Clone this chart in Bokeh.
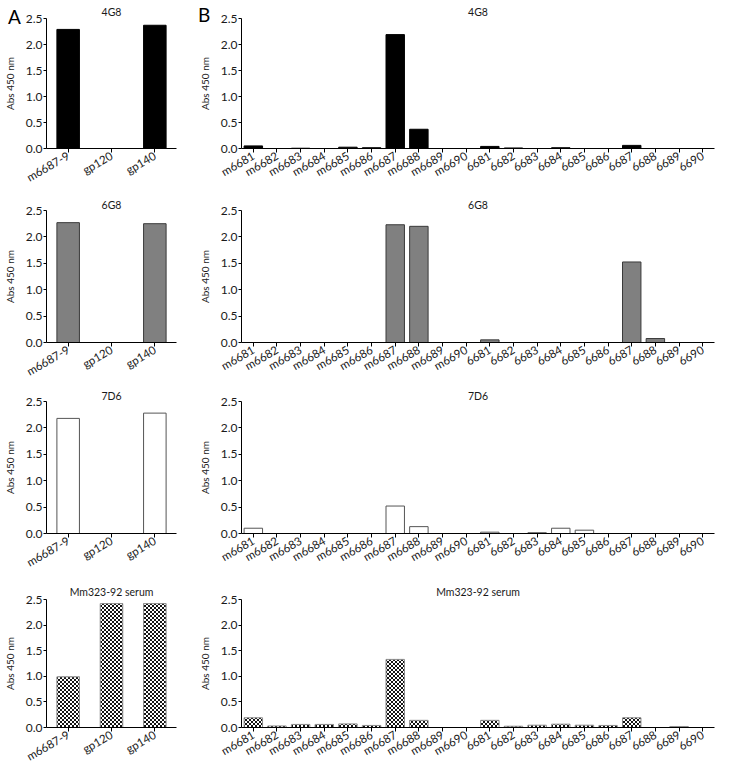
import math
import zlib
import struct
import base64
from bokeh.plotting import figure
from bokeh.layouts import column, row
from bokeh.models import (FactorRange, Range1d, FixedTicker, PrintfTickFormatter,
                          ImageURLTexture, ColumnDataSource, Div)
from bokeh.core.properties import value
from bokeh.embed import file_html
from bokeh.resources import INLINE

# ---------------- data ----------------
a_cats = ["m6687-9", "gp120", "gp140"]
b_cats = ["m6681", "m6682", "m6683", "m6684", "m6685", "m6686", "m6687", "m6688", "m6689", "m6690",
          "6681", "6682", "6683", "6684", "6685", "6686", "6687", "6688", "6689", "6690"]

panel_titles = ["4G8", "6G8", "7D6", "Mm323-92 serum"]
panel_letters = ["A", "B"]

a_4g8 = [2.29, 0.0, 2.37]
a_6g8 = [2.27, 0.0, 2.25]
a_7d6 = [2.18, 0.0, 2.28]
a_serum = [0.99, 2.42, 2.42]

b_4g8 = [0.05, 0.0, 0.005, 0.0, 0.025, 0.015, 2.19, 0.37, 0.0, 0.0,
         0.04, 0.01, 0.0, 0.015, 0.0, 0.0, 0.06, 0.0, 0.0, 0.0]
b_6g8 = [0.0, 0.0, 0.0, 0.0, 0.0, 0.0, 2.23, 2.20, 0.0, 0.0,
         0.05, 0.0, 0.0, 0.0, 0.0, 0.0, 1.525, 0.075, 0.0, 0.0]
b_7d6 = [0.10, 0.0, 0.0, 0.0, 0.0, 0.0, 0.52, 0.13, 0.0, 0.0,
         0.025, 0.0, 0.015, 0.10, 0.063, 0.0, 0.0, 0.0, 0.0, 0.0]
b_serum = [0.19, 0.03, 0.06, 0.06, 0.07, 0.04, 1.33, 0.14, 0.0, 0.0,
           0.14, 0.025, 0.045, 0.065, 0.045, 0.04, 0.19, 0.0, 0.02, 0.0]

y_ticks = [0.0, 0.5, 1.0, 1.5, 2.0, 2.5]
y_label = "Abs 450 nm"

a_series = [a_4g8, a_6g8, a_7d6, a_serum]
b_series = [b_4g8, b_6g8, b_7d6, b_serum]

# ---------------- styles ----------------
FONT = "Lato"
TXT = "#1a1a1a"


def checker_png_url(n=4):
    """Tiny grayscale PNG checkerboard tile (n x n pixels), as a data URL."""
    h = n // 2
    raw = b""
    for yy in range(n):
        raw += b"\x00" + bytes(20 if ((xx // h + yy // h) % 2 == 0) else 255 for xx in range(n))

    def chunk(tag, data):
        c = struct.pack(">I", len(data)) + tag + data
        return c + struct.pack(">I", zlib.crc32(tag + data) & 0xffffffff)

    png = (b"\x89PNG\r\n\x1a\n"
           + chunk(b"IHDR", struct.pack(">IIBBBBB", n, n, 8, 0, 0, 0, 0))
           + chunk(b"IDAT", zlib.compress(raw))
           + chunk(b"IEND", b""))
    return "data:image/png;base64," + base64.b64encode(png).decode("ascii")


checker = ImageURLTexture(url=checker_png_url(4), repetition="repeat")

styles = [
    dict(fill_color="black", line_color="black"),
    dict(fill_color="#808080", line_color="#3a3a3a"),
    dict(fill_color="white", line_color="#555555"),
    dict(fill_color="white", line_color="#8a8a8a", hatch_pattern=value("checker"),
         hatch_extra={"checker": checker}, hatch_color="black", hatch_alpha=1.0),
]

# per-row vertical geometry: top border, frame height, bottom border, title standoff
rows_geom = [(18, 130, 48, 2), (14, 132, 45, 0), (14, 132, 48, 0), (15, 128, 40, 4)]


def make_panel(cats, vals, title, style, frame_w, bar_w, right_border, geom):
    T, H, B, so = geom
    src = ColumnDataSource(dict(x=cats, top=vals))
    p = figure(x_range=FactorRange(*cats, range_padding=0), y_range=Range1d(0, 2.5),
               frame_width=frame_w, frame_height=H,
               min_border_left=45, min_border_right=right_border,
               min_border_top=T, min_border_bottom=B,
               toolbar_location=None, output_backend="svg",
               background_fill_color="white", border_fill_color="white")
    p.outline_line_color = None
    p.xgrid.visible = False
    p.ygrid.visible = False
    p.vbar(x="x", top="top", width=bar_w, bottom=0, source=src, line_width=1, **style)

    p.title.text = title
    p.title.align = "center"
    p.title.text_font = FONT
    p.title.text_font_size = "10.5px"
    p.title.text_font_style = "normal"
    p.title.text_color = TXT
    p.title.standoff = so

    ax = p.yaxis[0]
    ax.ticker = FixedTicker(ticks=y_ticks, minor_ticks=[])
    ax.formatter = PrintfTickFormatter(format="%.1f")
    ax.axis_label = y_label
    ax.axis_label_text_font = FONT
    ax.axis_label_text_font_size = "10px"
    ax.axis_label_text_font_style = "normal"
    ax.axis_label_text_color = TXT
    ax.axis_label_standoff = 7
    ax.major_label_text_font = FONT
    ax.major_label_text_font_size = "12px"
    ax.major_label_text_color = TXT
    ax.major_label_standoff = 1
    ax.major_tick_out = 3
    ax.major_tick_in = 0
    ax.minor_tick_out = 0
    ax.minor_tick_in = 0
    ax.axis_line_color = "black"
    ax.major_tick_line_color = "black"

    xa = p.xaxis[0]
    xa.major_label_orientation = math.pi / 6
    xa.major_label_text_font = FONT
    xa.major_label_text_font_size = "11.5px"
    xa.major_label_text_color = TXT
    xa.major_label_standoff = 2
    xa.major_tick_out = 4
    xa.major_tick_in = 0
    xa.axis_line_color = "black"
    xa.major_tick_line_color = "black"
    return p


def letter_div(txt, left, top):
    return Div(text=txt, width=20, height=22,
               styles={"position": "absolute", "left": f"{left}px", "top": f"{top}px",
                       "font-family": FONT, "font-size": "19px", "line-height": "1",
                       "color": "black", "z-index": "10"})


rows = []
for i in range(4):
    pa = make_panel(a_cats, a_series[i], panel_titles[i], styles[i], 130, 0.52, 19, rows_geom[i])
    pb = make_panel(b_cats, b_series[i], panel_titles[i], styles[i], 473, 0.78, 15, rows_geom[i])
    rows.append(row(pa, pb, spacing=0))

layout = column(letter_div(panel_letters[0], 3, 2), letter_div(panel_letters[1], 193, 0),
                *rows, spacing=0)

open("out.html", "w").write(file_html(layout, INLINE))
